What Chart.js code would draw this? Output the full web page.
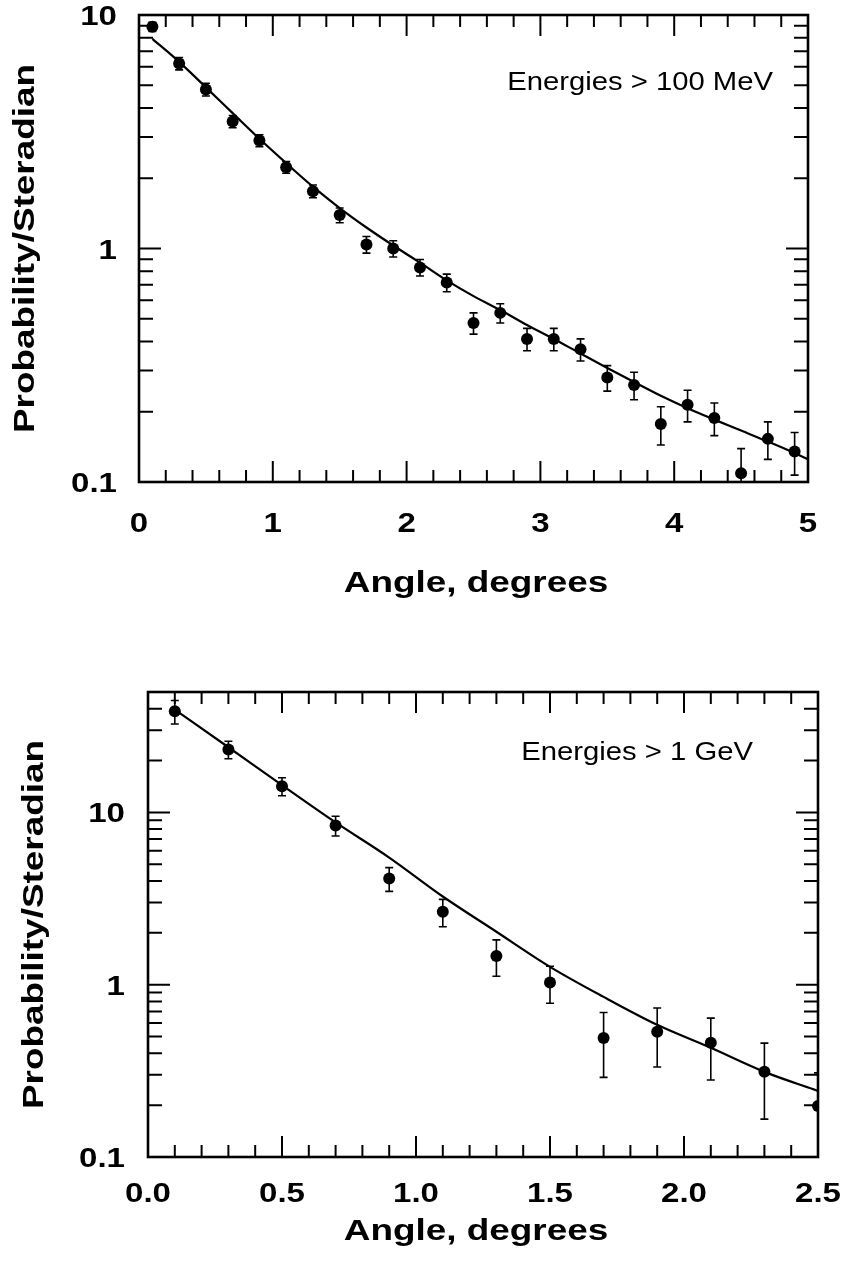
<!DOCTYPE html>
<html>
<head>
<meta charset="utf-8">
<title>Angular distribution</title>
<script src="https://cdn.jsdelivr.net/npm/chart.js@4.4.1/dist/chart.umd.min.js"></script>
<style>
  html, body { margin: 0; padding: 0; background: #fff; overflow: hidden; }
  body { width: 846px; height: 1274px; position: relative; }
  canvas { position: absolute; left: 0; }
  #top { top: -40px; }
  #bottom { top: 600px; }
</style>
</head>
<body>
<canvas id="top" width="846" height="680"></canvas>
<canvas id="bottom" width="846" height="674"></canvas>
<script>
// upper panel: energies > 100 MeV
const angle100 = [0.1, 0.3, 0.5, 0.7, 0.9, 1.1, 1.3, 1.5, 1.7, 1.9, 2.1, 2.3, 2.5, 2.7, 2.9, 3.1, 3.3, 3.5, 3.7, 3.9, 4.1, 4.3, 4.5, 4.7, 4.9];
const prob100 = [8.9, 6.2, 4.8, 3.5, 2.9, 2.23, 1.76, 1.39, 1.04, 1.0, 0.83, 0.715, 0.48, 0.53, 0.41, 0.41, 0.37, 0.28, 0.26, 0.177, 0.214, 0.188, 0.109, 0.153, 0.135];
const err100 = [0.4, 0.38, 0.3, 0.21, 0.17, 0.13, 0.11, 0.1, 0.085, 0.08, 0.067, 0.062, 0.05, 0.05, 0.045, 0.045, 0.04, 0.035, 0.035, 0.033, 0.033, 0.03, 0.03, 0.028, 0.028];
const fitAngle100 = [0.1, 0.3, 0.5, 0.7, 0.9, 1.1, 1.3, 1.5, 1.7, 1.9, 2.1, 2.3, 2.5, 2.7, 2.9, 3.1, 3.3, 3.5, 3.7, 3.9, 4.1, 4.3, 4.5, 4.7, 4.9, 5.0];
const fit100 = [7.9, 6.3, 4.9, 3.8, 2.95, 2.32, 1.84, 1.49, 1.23, 1.03, 0.87, 0.73, 0.625, 0.545, 0.47, 0.41, 0.355, 0.308, 0.268, 0.234, 0.207, 0.185, 0.166, 0.149, 0.133, 0.125];
const xLabels100 = [0, 1, 2, 3, 4, 5];
const yLabels100 = [0.1, 1, 10];

// lower panel: energies > 1 GeV
const angle1g = [0.1, 0.3, 0.5, 0.7, 0.9, 1.1, 1.3, 1.5, 1.7, 1.9, 2.1, 2.3, 2.5];
const prob1g = [38.6, 23.2, 14.2, 8.4, 4.13, 2.65, 1.47, 1.03, 0.49, 0.533, 0.46, 0.312, 0.198];
const err1g = [6, 2.7, 1.7, 1.1, 0.65, 0.48, 0.35, 0.25, 0.2, 0.2, 0.18, 0.146, 0.11];
const fitAngle1g = [0.1, 0.3, 0.5, 0.7, 0.9, 1.1, 1.3, 1.5, 1.7, 1.9, 2.1, 2.3, 2.5];
const fit1g = [39.5, 23.9, 14.4, 8.75, 5.47, 3.25, 2.03, 1.27, 0.85, 0.585, 0.43, 0.312, 0.242];
const xLabels1g = [0, 0.5, 1.0, 1.5, 2.0, 2.5];
const yLabels1g = [0.1, 1, 10];

const FONT = "'Liberation Sans', Arial, Helvetica, sans-serif";
Chart.defaults.font.family = FONT;
Chart.defaults.color = '#000';

// vertical error bars with small caps, clipped to the frame
const errorBars = {
  id: 'errorBars',
  beforeDatasetsDraw(chart, args, o) {
    const {ctx, chartArea: a, scales: {x, y}} = chart;
    ctx.save();
    ctx.beginPath();
    ctx.rect(a.left, a.top, a.width, a.height);
    ctx.clip();
    ctx.strokeStyle = '#000';
    ctx.lineWidth = 1.6;
    o.xs.forEach((xv, i) => {
      const px = x.getPixelForValue(xv);
      const hi = y.getPixelForValue(o.ys[i] + o.errs[i]);
      const lo = y.getPixelForValue(Math.max(o.ys[i] - o.errs[i], 0.001));
      ctx.beginPath();
      ctx.moveTo(px, hi); ctx.lineTo(px, lo);
      ctx.moveTo(px - 4, hi); ctx.lineTo(px + 4, hi);
      ctx.moveTo(px - 4, lo); ctx.lineTo(px + 4, lo);
      ctx.stroke();
    });
    ctx.restore();
  }
};

// closed frame with inward ticks on all four sides
const frameTicks = {
  id: 'frameTicks',
  afterDatasetsDraw(chart, args, o) {
    const {ctx, chartArea: a, scales: {x, y}} = chart;
    ctx.save();
    ctx.strokeStyle = '#000';
    ctx.lineWidth = 2;
    ctx.beginPath();
    const n = Math.round(o.xMax / o.xMinor);
    for (let i = 0; i <= n; i++) {
      const px = x.getPixelForValue(i * o.xMinor);
      const len = i % o.xPerMajor === 0 ? 21 : 12;
      ctx.moveTo(px, a.bottom); ctx.lineTo(px, a.bottom - len);
      ctx.moveTo(px, a.top); ctx.lineTo(px, a.top + len);
    }
    for (const d of [0.1, 1, 10]) {
      for (let m = 1; m <= 9; m++) {
        const v = m * d;
        if (v > o.yMax) break;
        const py = y.getPixelForValue(v);
        const len = m === 1 ? 22 : 14;
        ctx.moveTo(a.left, py); ctx.lineTo(a.left + len, py);
        ctx.moveTo(a.right, py); ctx.lineTo(a.right - len, py);
      }
    }
    ctx.stroke();
    ctx.lineWidth = 2.6;
    ctx.strokeRect(a.left, a.top, a.width, a.height);
    ctx.restore();
  }
};

// the lettering on this figure is set noticeably wide, so text is drawn with a horizontal stretch
function wideText(ctx, text, x, y, font, sx, align) {
  ctx.save();
  ctx.translate(x, y);
  ctx.scale(sx, 1);
  ctx.font = font;
  ctx.textAlign = align;
  ctx.textBaseline = 'alphabetic';
  ctx.fillText(text, 0, 0);
  ctx.restore();
}

// tick labels, axis titles and the energy note inside the frame
const panelText = {
  id: 'panelText',
  afterDraw(chart, args, o) {
    const {ctx, chartArea: a, scales: {x, y}} = chart;
    const titleFont = 'bold 30px ' + FONT;
    const tickFont = 'bold 28px ' + FONT;
    ctx.save();
    ctx.fillStyle = '#000';
    x.ticks.forEach(t => {
      wideText(ctx, t.value.toFixed(o.xDecimals), x.getPixelForValue(t.value), a.bottom + o.xLabelDy,
               tickFont, 1.18, 'center');
    });
    y.ticks.forEach(t => {
      wideText(ctx, String(t.value), a.left - o.yLabelGap, y.getPixelForValue(t.value) + 10,
               tickFont, 1.18, 'right');
    });
    wideText(ctx, 'Angle, degrees', o.xTitleX, a.bottom + o.xTitleDy, titleFont, 1.23, 'center');
    ctx.save();
    ctx.translate(o.yTitleX, (a.top + a.bottom) / 2);
    ctx.rotate(-Math.PI / 2);
    wideText(ctx, 'Probability/Steradian', 0, 0, titleFont, 1.23, 'center');
    ctx.restore();
    wideText(ctx, o.note, a.right - o.noteDx, a.top + o.noteDy, '25px ' + FONT, 1.17, 'right');
    ctx.restore();
  }
};

function makeChart(id, p) {
  const points = p.angles.map((v, i) => ({x: v, y: p.values[i]}));
  const fit = p.fitAngles.map((v, i) => ({x: v, y: p.fit[i]}));
  return new Chart(document.getElementById(id), {
    type: 'scatter',
    data: {
      datasets: [
        {data: points, pointRadius: 6, pointBackgroundColor: '#000', pointBorderWidth: 0, order: 0},
        {data: fit, showLine: true, pointRadius: 0, borderColor: '#000', borderWidth: 2.2,
         cubicInterpolationMode: 'monotone', order: 1}
      ]
    },
    options: {
      responsive: false,
      animation: false,
      devicePixelRatio: 1,
      layout: {padding: p.pad},
      plugins: {
        legend: {display: false},
        tooltip: {enabled: false},
        errorBars: {xs: p.angles, ys: p.values, errs: p.errs},
        frameTicks: {xMax: p.xMax, xMinor: p.xMinor, xPerMajor: p.xPerMajor, yMax: p.yMax},
        panelText: p.text
      },
      scales: {
        x: {
          type: 'linear', min: 0, max: p.xMax,
          grid: {display: false, drawTicks: false},
          border: {display: false},
          afterBuildTicks: s => { s.ticks = p.xLabels.map(v => ({value: v})); },
          afterFit: s => { s.height = p.xHeight; },
          ticks: {display: false}
        },
        y: {
          type: 'logarithmic', min: 0.1, max: p.yMax,
          grid: {display: false, drawTicks: false},
          border: {display: false},
          afterBuildTicks: s => { s.ticks = p.yLabels.map(v => ({value: v})); },
          afterFit: s => { s.width = p.yWidth; },
          ticks: {display: false}
        }
      }
    },
    plugins: [errorBars, frameTicks, panelText]
  });
}

makeChart('top', {
  angles: angle100, values: prob100, errs: err100,
  fitAngles: fitAngle100, fit: fit100,
  xLabels: xLabels100, yLabels: yLabels100,
  xMax: 5, xMinor: 0.2, xPerMajor: 5, yMax: 10,
  pad: {top: 55, right: 38, left: 0, bottom: 0},
  yWidth: 139, xHeight: 158,
  text: {xDecimals: 0, xLabelDy: 50, yLabelGap: 22,
         xTitleX: 476, xTitleDy: 110, yTitleX: 34, note: 'Energies > 100 MeV', noteDx: 35, noteDy: 75}
});

makeChart('bottom', {
  angles: angle1g, values: prob1g, errs: err1g,
  fitAngles: fitAngle1g, fit: fit1g,
  xLabels: xLabels1g, yLabels: yLabels1g,
  xMax: 2.5, xMinor: 0.1, xPerMajor: 5, yMax: 50,
  pad: {top: 92, right: 28, left: 0, bottom: 0},
  yWidth: 148, xHeight: 117,
  text: {xDecimals: 1, xLabelDy: 45, yLabelGap: 23,
         xTitleX: 476, xTitleDy: 83, yTitleX: 43, note: 'Energies > 1 GeV', noteDx: 65, noteDy: 68}
});
</script>
</body>
</html>
